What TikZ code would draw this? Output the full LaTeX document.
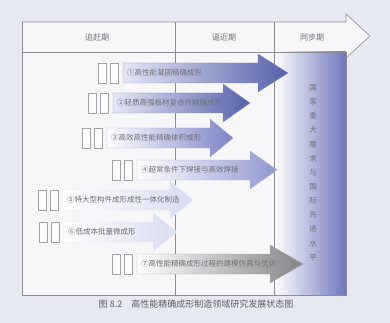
\documentclass[tikz,border=0pt]{standalone}
\usepackage{fontspec}
\newfontfamily\cjk{Noto Sans CJK SC}
\definecolor{bgc}{HTML}{E6E8F2}
\definecolor{pagec}{HTML}{F7F7FA}
\definecolor{framec}{HTML}{8C8C92}
\definecolor{txtc}{HTML}{707078}
\definecolor{colB}{HTML}{6E76BC}
\definecolor{aDark}{HTML}{5660AA}
\definecolor{aMid}{HTML}{7C84C6}
\definecolor{aLight}{HTML}{9097D0}
\definecolor{aPale}{HTML}{D9DCF0}
\definecolor{aGray}{HTML}{858589}
\tikzset{
  frameline/.style={draw=framec, line width=0.6pt},
  arrtext/.style={font=\cjk\fontsize{7.5}{8}\selectfont, text=txtc, inner sep=0pt},
  headtext/.style={font=\cjk\fontsize{8}{9}\selectfont, text=txtc},
  sqbox/.style={draw=framec!80, fill=white, line width=0.5pt},
}
% #1 name, #2 body start, #3 head base, #4 tip, #5 centre y, #6 right colour, #7 text, #8 left colour
\newcommand\devarrow[8]{%
  \draw[sqbox] (#2-13,#5-10) rectangle ++(8,20);
  \draw[sqbox] (#2-25,#5-10) rectangle ++(8,20);
  \shadedraw[left color=#8, right color=#6, draw=#6!70!white, line width=0.4pt]
    (#2,#5-10) -- (#3,#5-10) -- (#3,#5-19) -- (#4,#5) -- (#3,#5+19) -- (#3,#5+10) -- (#2,#5+10) -- cycle;
  \node[arrtext, anchor=west] (#1) at (#2+4,#5) {#7};
}
\begin{document}
\begin{tikzpicture}[x=1pt,y=-1pt]
\useasboundingbox (0,0) rectangle (390,323);
\fill[bgc] (0,0) rectangle (390,323);
\fill[pagec] (22,22) rectangle (346,295);
\fill[pagec] (346,14) -- (370,36) -- (346,58) -- cycle;
% column
\shade[left color=white, right color=colB] (274,52) rectangle (346,295);
% header arrow
\draw[frameline] (22,22) -- (346,22) -- (346,14) -- (370,36) -- (346,58);
\draw[frameline] (22,52) -- (346,52);
\draw[frameline] (22,22) -- (22,295) -- (346,295) -- (346,52);
\draw[frameline] (175,22) -- (175,295);
\draw[frameline] (274,22) -- (274,295);
\node[headtext] (h1) at (97,37) {追赶期};
\node[headtext] (h2) at (224,37) {逼近期};
\node[headtext] (h3) at (312,37) {同步期};
% vertical text
\node[font=\cjk\fontsize{7.5}{14.15}\selectfont, text=txtc, align=center, anchor=north] (vt) at (313,81)
 {国\\家\\重\\大\\需\\求\\与\\国\\际\\先\\进\\水\\平};
% arrows
\devarrow{a1}{123}{258}{288}{73}{aDark}{①高性能凝固精确成形}{aPale!70!white}
\devarrow{a2}{113}{223}{250}{103}{aDark}{②轻质高强板材复合件精确成形}{aPale!70!white}
\devarrow{a3}{107}{210}{233}{138}{aMid}{③高效高性能精确体积成形}{white}
\devarrow{a4}{137}{250}{277}{170}{aLight}{④超常条件下焊接与高效焊接}{white}
\devarrow{a5}{63}{170}{193}{200}{aPale}{⑤特大型构件成形成性一体化制造}{white}
\devarrow{a6}{64}{153}{177}{232}{aPale}{⑥低成本批量微成形}{white}
\devarrow{a7}{137}{270}{303}{264}{aGray}{⑦高性能精确成形过程的建模仿真与优化}{white}
% caption
\node[font=\cjk\fontsize{9}{10}\selectfont, text=txtc!85!black] (cap) at (196,304) {图 8.2\quad 高性能精确成形制造领域研究发展状态图};
\end{tikzpicture}
\end{document}
